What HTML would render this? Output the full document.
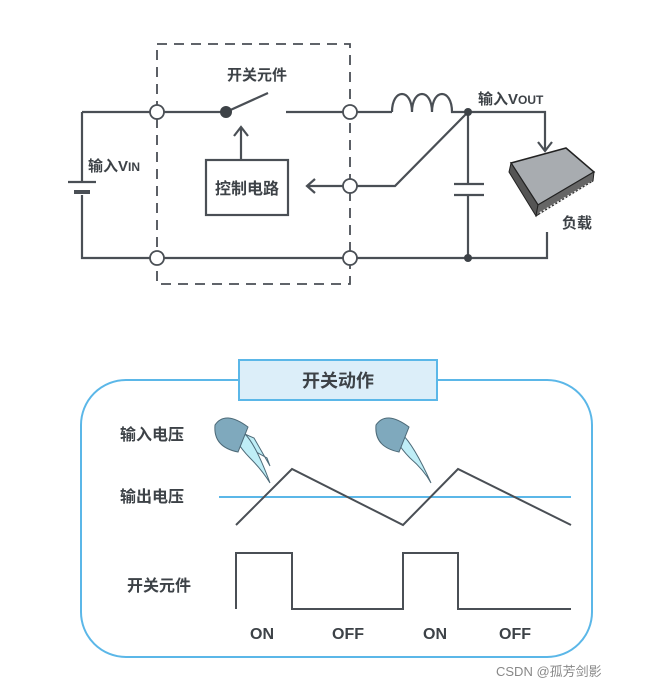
<!DOCTYPE html>
<html><head><meta charset="utf-8"><style>
body{margin:0;background:#fff;}
svg text{font-family:"Liberation Sans","Noto Sans CJK SC",sans-serif;fill:#3d4247;font-weight:bold;}
</style></head><body>
<svg width="647" height="690" viewBox="0 0 647 690" xmlns="http://www.w3.org/2000/svg">
<g stroke="#4a4f55" stroke-width="2.2" fill="none">
<rect x="157" y="44" width="193" height="240" stroke-dasharray="10,7" stroke-width="1.8"/>
<path d="M82 112H150M164 112H226M286 112H343M357 112H392"/>
<path d="M392 112c0-24 20-24 20 0c0-24 20-24 20 0c0-24 20-24 20 0H545V150"/>
<path d="M538 142l7 9l7-9"/>
<path d="M226 112L268 93"/>
<path d="M82 112V182M82 195V258H150M164 258H343M357 258H547V232"/>
<path d="M68 182H96" /><path d="M74 192H90" stroke-width="4"/>
<path d="M241 160V128M234 136l7-9l7 9"/>
<rect x="206" y="160" width="82" height="55"/>
<path d="M343 186H307M315 179l-8 7l8 7"/>
<path d="M357 186H395L468 112"/>
<path d="M468 112V184M454 184H484M454 195H484M468 195V258"/>
</g>
<g fill="#fff" stroke="#4a4f55" stroke-width="1.8">
<circle cx="157" cy="112" r="7"/><circle cx="350" cy="112" r="7"/>
<circle cx="157" cy="258" r="7"/><circle cx="350" cy="258" r="7"/>
<circle cx="350" cy="186" r="7"/>
</g>
<circle cx="226" cy="112" r="6" fill="#3d4247"/>
<circle cx="468" cy="112" r="4" fill="#3d4247"/>
<circle cx="468" cy="258" r="4" fill="#3d4247"/>
<!-- chip -->
<polygon points="511,163 566,148 594,172 538,205" fill="#a8acb0" stroke="#222" stroke-width="1.5"/>
<polygon points="511,163 538,205 536,216 509,172" fill="#555" stroke="#222" stroke-width="1"/>
<polygon points="538,205 594,172 593,181 536,216" fill="#666" stroke="#222" stroke-width="1"/>
<path d="M540 213l52-31" stroke="#eee" stroke-width="2" stroke-dasharray="2,2"/>
<text x="562" y="228" font-size="15">负载</text>
<text x="257" y="80" font-size="15" text-anchor="middle">开关元件</text>
<text x="88" y="171" font-size="15">输入V<tspan font-size="12">IN</tspan></text>
<text x="478" y="104" font-size="15">输入V<tspan font-size="12">OUT</tspan></text>
<text x="247" y="194" font-size="16" text-anchor="middle">控制电路</text>
<!-- bottom -->
<rect x="81" y="380" width="511" height="277" rx="45" fill="none" stroke="#5bb7e8" stroke-width="2"/>
<rect x="239" y="360" width="198" height="40" fill="#dceef9" stroke="#5bb7e8" stroke-width="2"/>
<text x="338" y="387" font-size="18" text-anchor="middle">开关动作</text>
<text x="120" y="440" font-size="16">输入电压</text>
<text x="120" y="502" font-size="16">输出电压</text>
<text x="127" y="591" font-size="16">开关元件</text>
<g font-size="16"><text x="262" y="639" text-anchor="middle">ON</text><text x="348" y="639" text-anchor="middle">OFF</text><text x="435" y="639" text-anchor="middle">ON</text><text x="515" y="639" text-anchor="middle">OFF</text></g>
<!-- buckets -->
<g stroke="#4d6a78" stroke-width="1">
<path d="M240 432l14 6l16 28l-3-8l-18-10l-4-10z" fill="#bfeef7"/>
<path d="M245 434Q256 445 270 483Q262 470 250 458Q242 450 236 440z" fill="#bfeef7"/>
<path d="M215 425q10-15 33 2l-10 25q-25-5-23-27z" fill="#7fa9bd"/>
<path d="M401 433Q414 445 431 483Q424 470 410 458Q402 450 396 440z" fill="#bfeef7"/>
<path d="M376 425q10-15 33 2l-10 25q-25-5-23-27z" fill="#7fa9bd"/>
</g>
<line x1="219" y1="497" x2="571" y2="497" stroke="#5bb7e8" stroke-width="2"/>
<polyline points="236,525 292,469 403,525 458,469 571,525" fill="none" stroke="#4a4f55" stroke-width="2"/>
<polyline points="236,609 236,553 292,553 292,609 403,609 403,553 458,553 458,609 571,609" fill="none" stroke="#4a4f55" stroke-width="2"/>
<text x="496" y="676" font-size="13" style="fill:#888;font-weight:normal">CSDN @孤芳剑影</text>
</svg>
</body></html>
